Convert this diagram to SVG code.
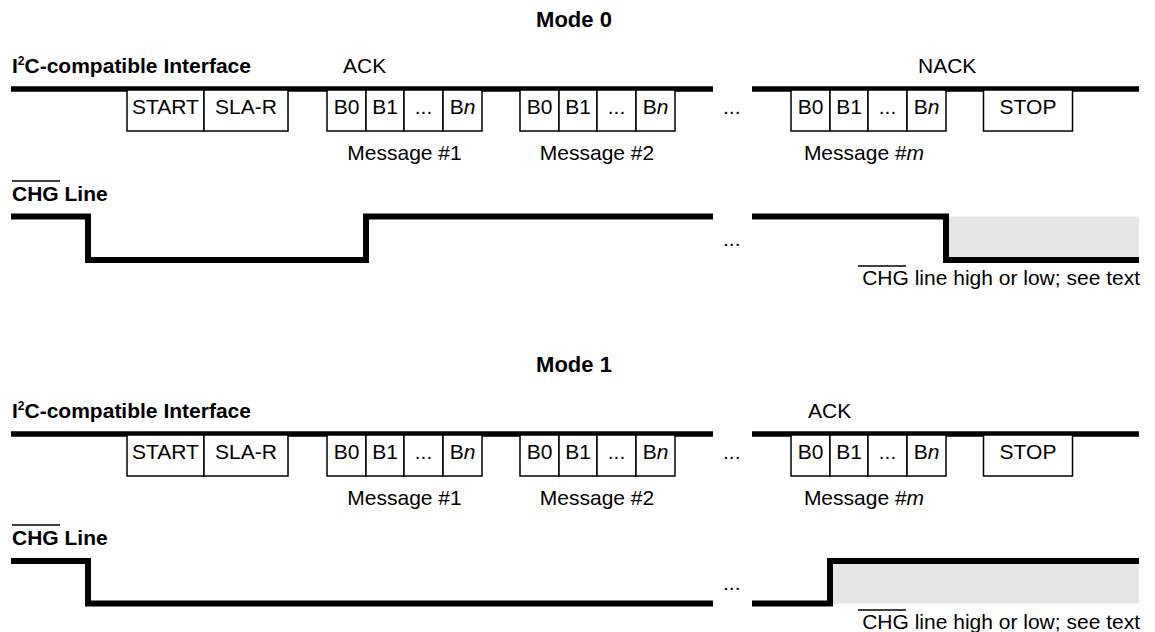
<svg xmlns="http://www.w3.org/2000/svg" width="1155" height="632" viewBox="0 0 1155 632">
<style>
text{font-family:"Liberation Sans",Arial,sans-serif;fill:#000}
.t{font-size:21px}
.b{font-size:21px;font-weight:bold}
.title{font-size:22px;font-weight:bold;text-anchor:middle}
.c{text-anchor:middle}
.r{text-anchor:end}
.box{fill:#fff;stroke:#000;stroke-width:1.5}
.bus{fill:none;stroke:#000;stroke-width:5.5}
.wave{fill:none;stroke:#000;stroke-width:6;stroke-linejoin:miter}
.ol{stroke:#000;stroke-width:1.5}
.gray{fill:#e6e6e6;stroke:none}
</style>
<defs>
<g id="msgcells">
<rect class="box" x="0" y="0" width="39" height="41"/>
<rect class="box" x="39" y="0" width="38" height="41"/>
<rect class="box" x="77" y="0" width="39" height="41"/>
<rect class="box" x="116" y="0" width="39" height="41"/>
<text class="t c" x="19.5" y="24">B0</text>
<text class="t c" x="58" y="24">B1</text>
<text class="t c" x="96.5" y="24">...</text>
<text class="t c" x="135.5" y="24">B<tspan font-style="italic">n</tspan></text>
</g>
</defs>

<!-- ===== Mode 0 ===== -->
<g id="mode0">
<text class="title" x="574" y="27">Mode 0</text>
<g id="m0-i2c-label"><text class="b" x="12" y="73">I<tspan font-size="12" dy="-8">2</tspan><tspan dy="8">C-compatible Interface</tspan></text></g>
<text class="t" x="343" y="73">ACK</text>
<text class="t" x="918" y="73">NACK</text>

<g id="m0-signals">
<path class="bus" d="M11,89 H713 M752,89 H1139"/>
<rect class="gray" x="946" y="216.5" width="193" height="43.5"/>
<path class="wave" d="M11,216.5 H88 V260 H366 V216.5 H713"/>
<path class="wave" d="M752,216.5 H946 V260 H1139"/>
</g>

<g id="m0-start">
<rect class="box" x="127" y="90" width="77" height="41"/>
<text class="t c" x="165.5" y="114">START</text>
</g>
<g id="m0-sla">
<rect class="box" x="204" y="90" width="84" height="41"/>
<text class="t c" x="246" y="114">SLA-R</text>
</g>
<g id="m0-msg1"><use href="#msgcells" x="327" y="90"/><text class="t c" x="404.5" y="160">Message #1</text></g>
<g id="m0-msg2"><use href="#msgcells" x="520" y="90"/><text class="t c" x="597" y="160">Message #2</text></g>
<text class="t" x="723" y="114">...</text>
<g id="m0-msgm"><use href="#msgcells" x="791" y="90"/><text class="t c" x="864" y="160">Message #<tspan font-style="italic">m</tspan></text></g>
<g id="m0-stop">
<rect class="box" x="983.5" y="90" width="89" height="41"/>
<text class="t c" x="1028" y="114">STOP</text>
</g>

<g id="m0-chg-label">
<line class="ol" x1="12" y1="181" x2="60" y2="181"/>
<text class="b" x="12" y="201">CHG Line</text>
</g>
<text class="t" x="723" y="246">...</text>
<g id="m0-note">
<line class="ol" x1="858" y1="266" x2="906" y2="266"/>
<text class="t r" x="1140" y="285">CHG line high or low; see text</text>
</g>
</g>

<!-- ===== Mode 1 ===== -->
<g id="mode1">
<text class="title" x="574" y="372">Mode 1</text>
<g id="m1-i2c-label"><text class="b" x="12" y="418">I<tspan font-size="12" dy="-8">2</tspan><tspan dy="8">C-compatible Interface</tspan></text></g>
<text class="t" x="808" y="418">ACK</text>

<g id="m1-signals">
<path class="bus" d="M11,434 H713 M752,434 H1139"/>
<rect class="gray" x="830" y="561" width="309" height="42.5"/>
<path class="wave" d="M11,561 H88 V603.5 H713"/>
<path class="wave" d="M752,603.5 H830 V561 H1139"/>
</g>

<g id="m1-start">
<rect class="box" x="127" y="435" width="77" height="41"/>
<text class="t c" x="165.5" y="459">START</text>
</g>
<g id="m1-sla">
<rect class="box" x="204" y="435" width="84" height="41"/>
<text class="t c" x="246" y="459">SLA-R</text>
</g>
<g id="m1-msg1"><use href="#msgcells" x="327" y="435"/><text class="t c" x="404.5" y="505">Message #1</text></g>
<g id="m1-msg2"><use href="#msgcells" x="520" y="435"/><text class="t c" x="597" y="505">Message #2</text></g>
<text class="t" x="723" y="459">...</text>
<g id="m1-msgm"><use href="#msgcells" x="791" y="435"/><text class="t c" x="864" y="505">Message #<tspan font-style="italic">m</tspan></text></g>
<g id="m1-stop">
<rect class="box" x="983.5" y="435" width="89" height="41"/>
<text class="t c" x="1028" y="459">STOP</text>
</g>

<g id="m1-chg-label">
<line class="ol" x1="12" y1="525" x2="60" y2="525"/>
<text class="b" x="12" y="545">CHG Line</text>
</g>
<text class="t" x="723" y="590">...</text>
<g id="m1-note">
<line class="ol" x1="858" y1="610" x2="906" y2="610"/>
<text class="t r" x="1140" y="629">CHG line high or low; see text</text>
</g>
</g>
</svg>
